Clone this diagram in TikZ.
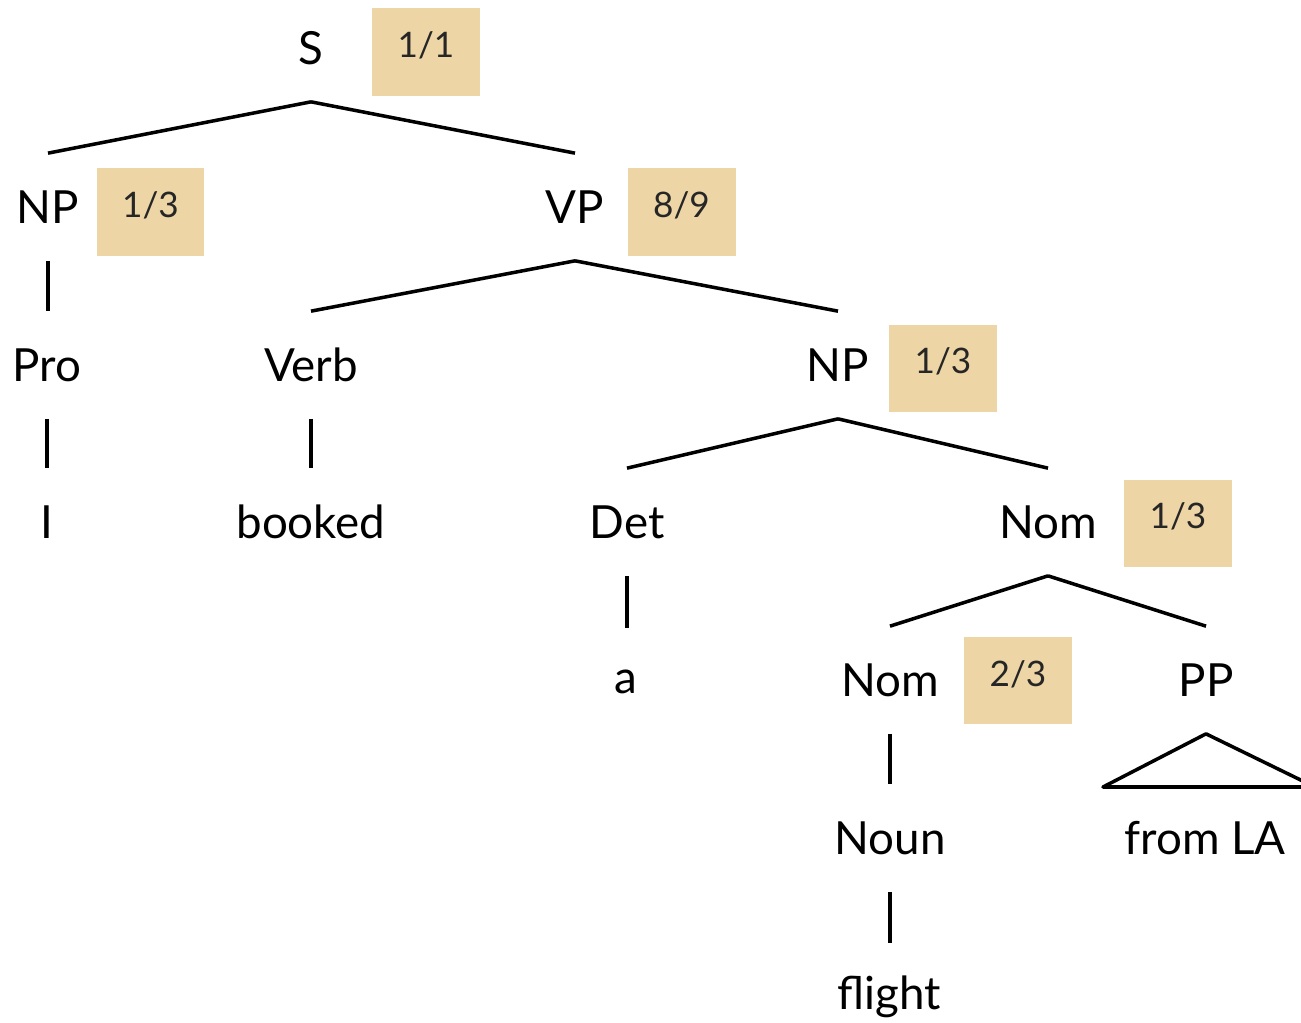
\documentclass[tikz,border=0pt]{standalone}
\usepackage{fontspec}
\setmainfont{Lato}
\usetikzlibrary{calc}

\definecolor{probfill}{HTML}{EDD5A5}

\tikzset{
  cat/.style={minimum height=2.14cm,inner sep=0pt,font=\fontsize{26}{30}\selectfont},
  prob/.style={fill=probfill,minimum width=2.16cm,minimum height=1.76cm,inner sep=0pt,
    text height=0.6cm,text depth=0.38cm,font=\fontsize{20}{24}\selectfont,text=black!85},
  branch/.style={line width=2pt}
}

\begin{document}
\begin{tikzpicture}[x=0.02cm,y=-0.02cm]
      \useasboundingbox (0,0) rectangle (1301,1023);
      \clip (0,0) rectangle (1301,1023);
      % categories
      \node[cat] (s) at (311,48) {S};
      \node[cat] (np) at (48,207) {NP};
      \node[cat] (vp) at (575,207) {VP};
      \node[cat] (pro) at (47,365) {Pro};
      \node[cat] (verb) at (311,365) {Verb};
      \node[cat] (npobj) at (838,365) {NP};
      \node[cat] (i) at (47,522) {I};
      \node[cat] (booked) at (311,522) {booked};
      \node[cat] (det) at (627,522) {Det};
      \node[cat] (nom) at (1048,522) {Nom};
      \node[cat] (a) at (626,682) {a};
      \node[cat] (nomsub) at (890,680) {Nom};
      \node[cat] (pp) at (1206,680) {PP};
      \node[cat] (noun) at (890,838) {Noun};
      \node[cat] (fromla) at (1205,838) {from LA};
      \node[cat] (flight) at (889,997) {flight};
      % probabilities
      \node[prob] (ps) at (426,52) {1/1};
      \node[prob] (pnp) at (150.5,212) {1/3};
      \node[prob] (pvp) at (681.5,212) {8/9};
      \node[prob] (pnpobj) at (943,368.5) {1/3};
      \node[prob] (pnom) at (1178,523.5) {1/3};
      \node[prob] (pnomsub) at (1018,680.5) {2/3};
      % branches
      \draw[branch] (s.south) -- (np.north);
      \draw[branch] (s.south) -- (vp.north);
      \draw[branch] (np.south) -- (np.south |- pro.north);
      \draw[branch] (pro.south) -- (pro.south |- i.north);
      \draw[branch] (vp.south) -- (verb.north);
      \draw[branch] (vp.south) -- (npobj.north);
      \draw[branch] (verb.south) -- (verb.south |- booked.north);
      \draw[branch] (npobj.south) -- (det.north);
      \draw[branch] (npobj.south) -- (nom.north);
      \draw[branch] (det.south) -- (det.south |- a.north);
      \draw[branch] (nom.south) -- (nomsub.north);
      \draw[branch] (nom.south) -- (pp.north);
      \draw[branch] (nomsub.south) -- (nomsub.south |- noun.north);
      \draw[branch] (noun.south) -- (noun.south |- flight.north);
      \coordinate (ppleft) at (1103,787);
      \coordinate (ppright) at (1315,787);
      \draw[branch,line join=round] (pp.south) -- (ppleft) -- (ppright) -- cycle;
\end{tikzpicture}
\end{document}
